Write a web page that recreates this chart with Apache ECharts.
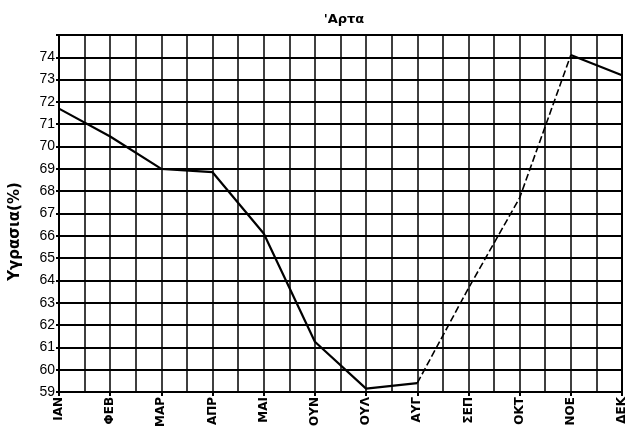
<!DOCTYPE html>
<html>
<head>
<meta charset="utf-8">
<script src="https://cdn.jsdelivr.net/npm/echarts@6/dist/echarts.min.js"></script>
<style>
  html, body { margin: 0; padding: 0; background: #fff; }
  #chart { width: 628px; height: 430px; }
</style>
</head>
<body>
<div id="chart"></div>
<script>
// months (greek abbreviations as printed on the chart)
const months = ["ΙΑΝ", "ΦΕΒ", "ΜΑΡ", "ΑΠΡ", "ΜΑΙ", "ΟΥΝ", "ΟΥΛ", "ΑΥΓ", "ΣΕΠ", "ΟΚΤ", "ΝΟΕ", "ΔΕΚ"];
// relative humidity, solid part of the curve ('-' = gap)
const solidValues = [71.7, 70.45, 69.0, 68.85, 66.1, 61.25, 59.15, 59.4, "-", "-", 74.1, 73.2];
// dashed part of the curve (AUG -> NOV)
const dashedValues = ["-", "-", "-", "-", "-", "-", "-", 59.4, 63.65, 67.7, 74.1, "-"];

const toPoints = arr => arr.map((v, i) => [i, v]);

const chart = echarts.init(document.getElementById("chart"));

chart.setOption({
  animation: false,
  backgroundColor: "#fff",
  title: {
    text: "'Αρτα",
    left: 339,
    textAlign: "center",
    top: 8,
    textStyle: {
      color: "#000",
      fontFamily: "DejaVu Sans",
      fontWeight: "bold",
      fontSize: 13
    }
  },
  grid: {
    left: 55,
    right: 5,
    top: 35,
    bottom: 36,
    show: true,
    borderColor: "#000",
    borderWidth: 2
  },
  xAxis: {
    type: "value",
    min: 0,
    max: 11,
    interval: 1,
    axisLine: { show: false },
    axisTick: { show: true, length: 4, lineStyle: { color: "#000", width: 2 } },
    axisLabel: {
      rotate: 90,
      margin: 5,
      color: "#000",
      fontFamily: "DejaVu Sans",
      fontWeight: "bold",
      fontSize: 12,
      formatter: v => months[v] || ""
    },
    splitLine: { show: true, lineStyle: { color: "#000", width: 1.5 } },
    minorTick: { show: false, splitNumber: 2 },
    minorSplitLine: { show: true, lineStyle: { color: "#000", width: 1.5 } }
  },
  yAxis: {
    type: "value",
    min: 59,
    max: 75,
    interval: 1,
    name: "Υγρασια(%)",
    nameLocation: "middle",
    nameGap: 36,
    nameTextStyle: {
      color: "#000",
      fontFamily: "DejaVu Sans",
      fontWeight: "bold",
      fontSize: 15,
      padding: [0, 0, 0, -36]
    },
    axisLine: { show: false },
    axisTick: { show: true, length: 3, lineStyle: { color: "#000", width: 2 } },
    axisLabel: {
      margin: 4,
      color: "#000",
      fontFamily: "Liberation Sans",
      fontSize: 14,
      formatter: v => (v === 75 ? "" : v)
    },
    splitLine: { show: true, lineStyle: { color: "#000", width: 2 } }
  },
  series: [
    {
      name: "solid",
      type: "line",
      data: toPoints(solidValues),
      showSymbol: false,
      connectNulls: false,
      lineStyle: { color: "#000", width: 2.2 }
    },
    {
      name: "dashed",
      type: "line",
      data: toPoints(dashedValues),
      showSymbol: false,
      lineStyle: { color: "#000", width: 1.6, type: [7, 3] }
    }
  ]
});
</script>
</body>
</html>
